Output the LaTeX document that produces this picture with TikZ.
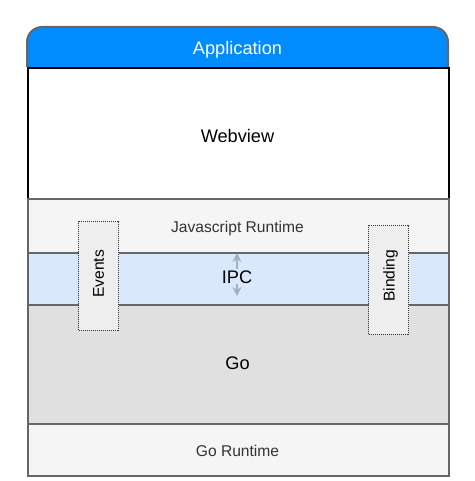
\documentclass[tikz,border=0pt]{standalone}
\usepackage{fontspec}
\setmainfont{Liberation Sans}
\usetikzlibrary{arrows.meta}
\definecolor{appblue}{RGB}{0,140,255}
\definecolor{bordergray}{RGB}{102,102,102}
\definecolor{jsfill}{RGB}{245,245,245}
\definecolor{ipcfill}{RGB}{218,232,252}
\definecolor{gofill}{RGB}{224,224,224}
\definecolor{sidefill}{RGB}{238,238,238}
\definecolor{darktext}{RGB}{51,51,51}
\definecolor{arrowgray}{RGB}{165,175,190}
\begin{document}
\begin{tikzpicture}[x=1pt,y=-1pt,
  layer/.style={rectangle, draw=bordergray, line width=2pt, inner sep=0pt, anchor=north west, minimum width=421pt},
  sidebox/.style={rectangle, draw=darktext, line width=1.1pt, dash pattern=on 1pt off 1pt, fill=sidefill, inner sep=0pt, anchor=north west, minimum width=40pt, minimum height=109pt},
  bigtext/.style={font=\fontsize{18.2}{21}\selectfont, text height=13pt, text depth=0pt, inner sep=0pt},
  smalltext/.style={font=\fontsize{15.6}{18}\selectfont, text height=11.2pt, text depth=0pt, inner sep=0pt},
  ipcarrow/.style={draw=arrowgray, line width=1.3pt, {Stealth[length=9pt,width=9pt,inset=3pt]}-{Stealth[length=9pt,width=9pt,inset=3pt]}}
]
\useasboundingbox (0,0) rectangle (474,481);
% header
\fill[appblue, rounded corners=15pt] (27,67) -- (27,27) -- (448,27) -- (448,67);
\draw[bordergray, line width=2pt, rounded corners=15pt] (27,67) -- (27,27) -- (448,27) -- (448,67);
% layers
\node[layer, draw=black, fill=white, minimum height=131pt] (webview) at (27,67) {};
\node[layer, fill=jsfill, minimum height=54pt] (js) at (27,198) {};
\node[layer, fill=ipcfill, minimum height=52pt] (ipc) at (27,252) {};
\node[layer, fill=gofill, minimum height=119pt] (go) at (27,304) {};
\node[layer, fill=jsfill, minimum height=52pt] (gort) at (27,423) {};
% side boxes
\node[sidebox] (events) at (78,221) {};
\node[sidebox] (binding) at (368,225) {};
% arrow
\coordinate (ipctop) at (237,253);
\coordinate (ipcbot) at (237,296);
\draw[ipcarrow] (ipctop) -- (ipcbot);
% labels
\node[bigtext, text=white] (applabel) at (237.5,48.5) {Application};
\node[bigtext] (webviewlabel) at (237.5,135.8) {Webview};
\node[smalltext, text=darktext] (jslabel) at (237.5,227) {Javascript Runtime};
\node[bigtext, fill=ipcfill, inner xsep=1pt, inner ysep=1pt] (ipclabel) at (237,276.7) {IPC};
\node[bigtext] (golabel) at (237.5,362.7) {Go};
\node[smalltext, text=darktext] (gortlabel) at (237.5,450.5) {Go Runtime};
\node[smalltext, rotate=90] (eventslabel) at (98.3,274) {Events};
\node[smalltext, rotate=90] (bindinglabel) at (389,275.7) {Binding};
\end{tikzpicture}
\end{document}
